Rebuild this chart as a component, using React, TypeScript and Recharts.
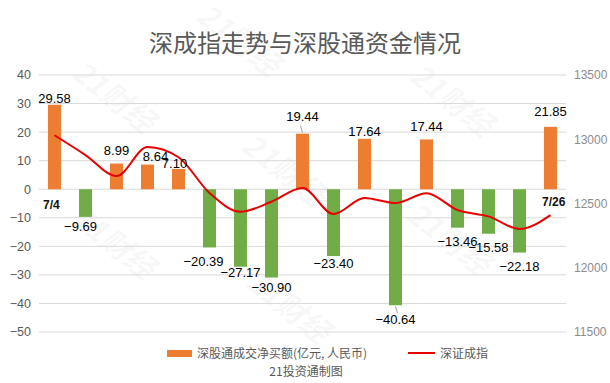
import React from "react";
import {
  ComposedChart,
  Bar,
  Line,
  XAxis,
  YAxis,
  CartesianGrid,
  Cell,
  LabelList,
} from "recharts";

const dates = ["7/4", "7/5", "7/6", "7/7", "7/8", "7/11", "7/12", "7/13", "7/14", "7/15", "7/18", "7/19", "7/20", "7/21", "7/22", "7/25", "7/26"];
const netBuy = [29.58, -9.69, 8.99, 8.64, 7.1, -20.39, -27.17, -30.9, 19.44, -23.4, 17.64, -40.64, 17.44, -13.46, -15.58, -22.18, 21.85];
const szIndex = [13031, 12877, 12714, 12940, 12860, 12582, 12436, 12514, 12620, 12418, 12543, 12504, 12580, 12449, 12400, 12302, 12410];

const leftTicks = [-50, -40, -30, -20, -10, 0, 10, 20, 30, 40];
const rightTicks = [11500, 12000, 12500, 13000, 13500];

const title = "深成指走势与深股通资金情况";
const barName = "深股通成交净买额(亿元, 人民币)";
const lineName = "深证成指";
const source = "21投资通制图";
const watermark = "21财经";

const data = dates.map((d, i) => ({ date: d, net: netBuy[i], idx: szIndex[i] }));

const ORANGE = "#ED7D31";
const GREEN = "#70AD47";
const RED = "#E60000";
const FONT = '"Liberation Sans", Arial, "Noto Sans CJK SC", sans-serif';
const CJK = '"Noto Sans CJK SC", "Liberation Sans", sans-serif';

// small nudges for labels that Excel moved to avoid overlap
const labelShift: Record<number, { dx: number; dy: number }> = {
  0: { dx: 0, dy: 4.5 },
  1: { dx: -5, dy: -3 },
  2: { dx: 0, dy: -2 },
  3: { dx: 8, dy: 3 },
  4: { dx: -4, dy: 6 },
  5: { dx: -6, dy: 1 },
  6: { dx: 0, dy: -7 },
  7: { dx: 0, dy: -2.5 },
  8: { dx: 0, dy: -6 },
  9: { dx: 0, dy: -5.5 },
  10: { dx: 0, dy: 3.5 },
  11: { dx: 0, dy: 1 },
  12: { dx: 0, dy: -2 },
  13: { dx: 0, dy: 1 },
  14: { dx: 0, dy: 1 },
  15: { dx: 0, dy: 1 },
  16: { dx: 0, dy: -4 },
};

const BarLabel = (props: any) => {
  const { x, y, width, height, value, index } = props;
  const cx = x + width / 2;
  const top = Math.min(y, y + height);
  const bottom = Math.max(y, y + height);
  const s = labelShift[index] ?? { dx: 0, dy: 0 };
  const pos = value >= 0;
  const ty = pos ? top - 6.5 + s.dy : bottom + 17.5 + s.dy;
  const txt = (pos ? "" : "\u2212") + Math.abs(value).toFixed(2);
  return (
    <g>
      {index === 8 && <line x1={cx} y1={top - 1} x2={cx - 2} y2={top - 8} stroke="#a6a6a6" />}
      {index === 11 && <line x1={cx} y1={bottom + 1} x2={cx + 2} y2={bottom + 8} stroke="#a6a6a6" />}
      <text x={cx + s.dx} y={ty} textAnchor="middle" fontSize={13} fill="#000" fontFamily={FONT}>
        {txt}
      </text>
    </g>
  );
};

const marks = [
  [115, 95], [453, 98], [285, 168], [115, 241], [450, 237], [290, 305], [240, 38],
];

export default function App() {
  return (
    <div style={{ position: "absolute", left: 0, top: 0, width: 610, height: 383, background: "#fff", overflow: "hidden" }}>
      {marks.map(([x, y], i) => (
        <div
          key={i}
          style={{
            position: "absolute",
            left: x - 50,
            top: y - 18,
            width: 100,
            textAlign: "center",
            fontSize: 30,
            fontWeight: 700,
            fontStyle: "italic",
            fontFamily: CJK,
            color: "rgba(0,0,0,0.045)",
            transform: "rotate(38deg)",
            lineHeight: "36px",
          }}
        >
          {watermark}
        </div>
      ))}
      <div
        style={{
          position: "absolute",
          left: 0,
          top: 28,
          width: 610,
          textAlign: "center",
          fontSize: 24,
          lineHeight: "28px",
          color: "#595959",
          fontFamily: CJK,
        }}
      >
        {title}
      </div>
      <div style={{ position: "absolute", left: 0, top: 0 }}>
        <ComposedChart width={610} height={383} data={data} margin={{ top: 75, right: 0, bottom: 51, left: 0 }}>
          <CartesianGrid yAxisId="l" vertical={false} stroke="#d9d9d9" />
          <XAxis dataKey="date" hide />
          <YAxis
            yAxisId="l"
            width={39}
            domain={[-50, 40]}
            ticks={leftTicks}
            axisLine={false}
            tickLine={false}
            tick={{ fontSize: 12.5, fill: "#595959", fontFamily: FONT }}
            tickFormatter={(v: number) => (v < 0 ? "\u2212" + Math.abs(v) : String(v))}
          />
          <YAxis
            yAxisId="r"
            orientation="right"
            width={44}
            domain={[11500, 13500]}
            ticks={rightTicks}
            axisLine={false}
            tickLine={false}
            tick={{ fontSize: 12, fill: "#8c8c8c", fontFamily: FONT }}
          />
          <Bar yAxisId="l" dataKey="net" barSize={13} isAnimationActive={false}>
            {data.map((d, i) => (
              <Cell key={i} fill={d.net >= 0 ? ORANGE : GREEN} />
            ))}
            <LabelList dataKey="net" content={BarLabel} />
          </Bar>
          <Line
            yAxisId="r"
            dataKey="idx"
            type="monotone"
            stroke={RED}
            strokeWidth={2}
            dot={false}
            isAnimationActive={false}
          />
        </ComposedChart>
      </div>
      <div style={{ position: "absolute", left: 43, top: 197, width: 20, fontSize: 12, fontWeight: 700, fontFamily: FONT, color: "#111", lineHeight: "16px" }}>
        {dates[0]}
      </div>
      <div style={{ position: "absolute", left: 542, top: 194, fontSize: 12, fontWeight: 700, fontFamily: FONT, color: "#111", lineHeight: "16px" }}>
        {dates[dates.length - 1]}
      </div>
      <div style={{ position: "absolute", left: 167, top: 350, width: 25, height: 7, background: ORANGE }} />
      <div style={{ position: "absolute", left: 197, top: 345, fontSize: 12, lineHeight: "16px", color: "#595959", fontFamily: CJK, whiteSpace: "nowrap" }}>
        {barName}
      </div>
      <div style={{ position: "absolute", left: 408, top: 352, width: 27, height: 2, background: RED }} />
      <div style={{ position: "absolute", left: 440, top: 345, fontSize: 12, lineHeight: "16px", color: "#595959", fontFamily: CJK }}>
        {lineName}
      </div>
      <div style={{ position: "absolute", left: 0, top: 363, width: 612, textAlign: "center", fontSize: 12, lineHeight: "16px", color: "#595959", fontFamily: CJK }}>
        {source}
      </div>
    </div>
  );
}
